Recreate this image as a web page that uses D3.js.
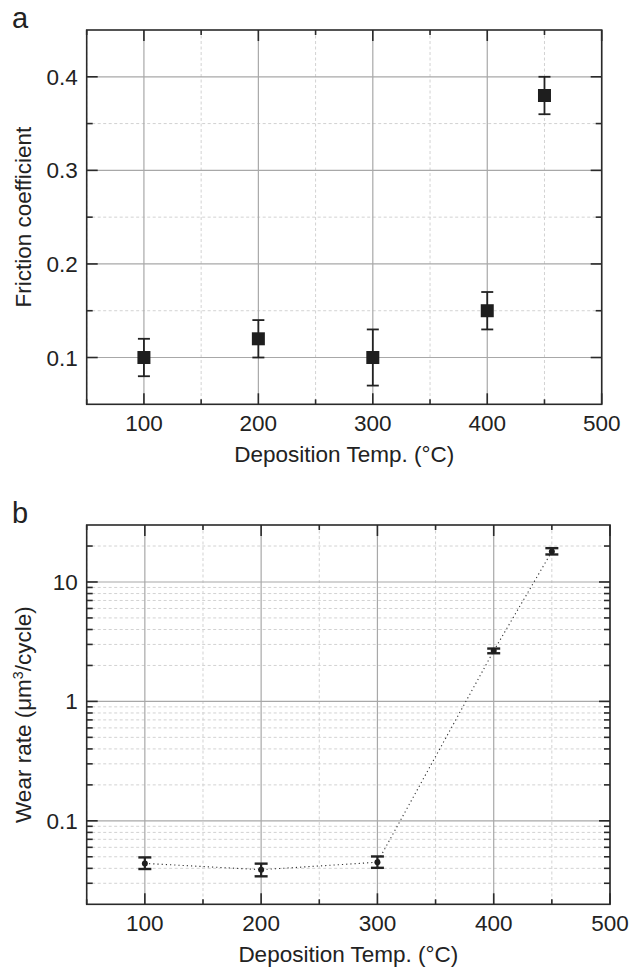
<!DOCTYPE html>
<html>
<head>
<meta charset="utf-8">
<script src="https://cdn.jsdelivr.net/npm/d3@7"></script>
<style>
  body { margin: 0; background: #fff; }
  svg { display: block; font-family: "Liberation Sans", Arial, sans-serif; }
  .lbl { fill: #222; }
</style>
</head>
<body>
<svg id="chart" width="629" height="968"></svg>
<script>
// deposition temperatures (°C)
var temps = [100, 200, 300, 400, 450];

// panel a: friction coefficient with error bars
var friction = [0.10, 0.12, 0.10, 0.15, 0.38],
    frictionLow = [0.08, 0.10, 0.07, 0.13, 0.36],
    frictionHigh = [0.12, 0.14, 0.13, 0.17, 0.40];

// panel b: wear rate (um^3/cycle)
var wear = [0.044, 0.039, 0.045, 2.65, 18.0],
    wearLow = [0.0395, 0.0343, 0.0404, 2.53, 17.0],
    wearHigh = [0.0494, 0.0438, 0.0503, 2.77, 19.2];

var xTicks = [100, 200, 300, 400, 500],
    frictionTicks = [0.1, 0.2, 0.3, 0.4],
    frictionTickLabels = ['0.1', '0.2', '0.3', '0.4'],
    wearTicks = [0.1, 1, 10],
    wearTickLabels = ['0.1', '1', '10'];

var svg = d3.select('#chart');

function panel(opt) {
    var g = svg.append('g'),
        x = d3.scaleLinear().domain([50, 500]).range([opt.left, opt.right]),
        y = opt.y,
        top = opt.top, bottom = opt.bottom;

    var xMinor = x.ticks(9).filter(function(t) { return xTicks.indexOf(t) < 0; }),
        yMinor = opt.yMinor;

    // minor grid (dashed)
    g.selectAll('.gxm').data(xMinor).enter().append('line')
        .attr('x1', x).attr('x2', x).attr('y1', top).attr('y2', bottom)
        .attr('stroke', '#d2d2d2').attr('stroke-dasharray', '3,2.5');
    g.selectAll('.gym').data(yMinor).enter().append('line')
        .attr('y1', y).attr('y2', y).attr('x1', opt.left).attr('x2', opt.right)
        .attr('stroke', '#d2d2d2').attr('stroke-dasharray', '3,2.5');

    // major grid (solid)
    g.selectAll('.gx').data(xTicks).enter().append('line')
        .attr('x1', x).attr('x2', x).attr('y1', top).attr('y2', bottom)
        .attr('stroke', '#a8a8a8').attr('stroke-width', 1.2);
    g.selectAll('.gy').data(opt.yTicks).enter().append('line')
        .attr('y1', y).attr('y2', y).attr('x1', opt.left).attr('x2', opt.right)
        .attr('stroke', '#a8a8a8').attr('stroke-width', 1.2);

    // data layer
    opt.marks(g, x, y);

    // inward ticks on all four sides
    var tk = '#2a2a2a';
    function xt(data, len) {
        g.selectAll(null).data(data).enter().append('line')
            .attr('x1', x).attr('x2', x).attr('y1', bottom).attr('y2', bottom - len)
            .attr('stroke', tk).attr('stroke-width', 1.6);
        g.selectAll(null).data(data).enter().append('line')
            .attr('x1', x).attr('x2', x).attr('y1', top).attr('y2', top + len)
            .attr('stroke', tk).attr('stroke-width', 1.6);
    }
    function yt(data, len) {
        g.selectAll(null).data(data).enter().append('line')
            .attr('y1', y).attr('y2', y).attr('x1', opt.left).attr('x2', opt.left + len)
            .attr('stroke', tk).attr('stroke-width', 1.6);
        g.selectAll(null).data(data).enter().append('line')
            .attr('y1', y).attr('y2', y).attr('x1', opt.right).attr('x2', opt.right - len)
            .attr('stroke', tk).attr('stroke-width', 1.6);
    }
    xt(xTicks, 11); xt(xMinor, 5);
    yt(opt.yTicks, 11); yt(yMinor, 6);

    // frame
    g.append('rect')
        .attr('x', opt.left).attr('y', top)
        .attr('width', opt.right - opt.left).attr('height', bottom - top)
        .attr('fill', 'none').attr('stroke', '#2a2a2a').attr('stroke-width', 1.6);

    // tick labels
    g.selectAll('.xl').data(xTicks).enter().append('text').attr('class', 'lbl')
        .attr('x', x).attr('y', bottom + 27)
        .attr('text-anchor', 'middle').attr('font-size', 22.5)
        .text(function(d) { return d; });
    g.selectAll('.yl').data(opt.yTicks).enter().append('text').attr('class', 'lbl')
        .attr('x', opt.left - 9).attr('y', function(d) { return y(d) + 8; })
        .attr('text-anchor', 'end').attr('font-size', 22.5)
        .text(function(d, i) { return opt.yLabels[i]; });

    // axis titles
    g.append('text').attr('class', 'lbl')
        .attr('x', (opt.left + opt.right) / 2).attr('y', bottom + 58)
        .attr('text-anchor', 'middle').attr('font-size', 22.5)
        .text('Deposition Temp. (°C)');
    var yt2 = g.append('text').attr('class', 'lbl')
        .attr('transform', 'translate(31,' + (top + bottom) / 2 + ') rotate(-90)')
        .attr('text-anchor', 'middle').attr('font-size', 22.5);
    opt.yTitle(yt2);

    // panel letter
    g.append('text').attr('class', 'lbl')
        .attr('x', 12).attr('y', opt.letterY)
        .attr('font-size', 29).text(opt.letter);
}

// panel a
var ya = d3.scaleLinear().domain([0.05, 0.45]).range([404.3, 30]);
panel({
    left: 86.7, right: 601.7, top: 30, bottom: 404.3,
    y: ya, yTicks: frictionTicks, yLabels: frictionTickLabels,
    yMinor: [0.15, 0.25, 0.35],
    letter: 'a', letterY: 28,
    yTitle: function(t) { t.text('Friction coefficient'); },
    marks: function(g, x, y) {
        var pts = temps.map(function(t, i) {
            return { t: t, v: friction[i], lo: frictionLow[i], hi: frictionHigh[i] };
        });
        var e = g.selectAll('.eb').data(pts).enter().append('g');
        e.append('line')
            .attr('x1', function(d) { return x(d.t); }).attr('x2', function(d) { return x(d.t); })
            .attr('y1', function(d) { return y(d.lo); }).attr('y2', function(d) { return y(d.hi); })
            .attr('stroke', '#222').attr('stroke-width', 1.8);
        ['lo', 'hi'].forEach(function(k) {
            e.append('line')
                .attr('x1', function(d) { return x(d.t) - 6; }).attr('x2', function(d) { return x(d.t) + 6; })
                .attr('y1', function(d) { return y(d[k]); }).attr('y2', function(d) { return y(d[k]); })
                .attr('stroke', '#222').attr('stroke-width', 1.8);
        });
        e.append('rect')
            .attr('x', function(d) { return x(d.t) - 6.5; })
            .attr('y', function(d) { return y(d.v) - 6.5; })
            .attr('width', 13).attr('height', 13)
            .attr('fill', '#1e1e1e');
    }
});

// panel b
var yb = d3.scaleLog().domain([0.02, 30]).range([904.3, 525]);
panel({
    left: 86.7, right: 610, top: 525, bottom: 904.3,
    y: yb, yTicks: wearTicks, yLabels: wearTickLabels,
    yMinor: yb.ticks().filter(function(t) {
        return wearTicks.every(function(m) { return Math.abs(t - m) > 1e-9; }) && t > 0.02 && t < 30;
    }),
    letter: 'b', letterY: 523,
    yTitle: function(t) {
        t.append('tspan').text('Wear rate (μm');
        t.append('tspan').attr('dy', -8).attr('font-size', 14).text('3');
        t.append('tspan').attr('dy', 8).text('/cycle)');
    },
    marks: function(g, x, y) {
        var pts = temps.map(function(t, i) {
            return { t: t, v: wear[i], lo: wearLow[i], hi: wearHigh[i] };
        });
        var line = d3.line()
            .x(function(d) { return x(d.t); })
            .y(function(d) { return y(d.v); });
        g.append('path')
            .attr('d', line(pts))
            .attr('fill', 'none').attr('stroke', '#333')
            .attr('stroke-width', 1.1).attr('stroke-dasharray', '1.2,3');
        var e = g.selectAll('.eb').data(pts).enter().append('g');
        e.append('line')
            .attr('x1', function(d) { return x(d.t); }).attr('x2', function(d) { return x(d.t); })
            .attr('y1', function(d) { return y(d.lo); }).attr('y2', function(d) { return y(d.hi); })
            .attr('stroke', '#222').attr('stroke-width', 2.2);
        ['lo', 'hi'].forEach(function(k) {
            e.append('line')
                .attr('x1', function(d) { return x(d.t) - 6.5; }).attr('x2', function(d) { return x(d.t) + 6.5; })
                .attr('y1', function(d) { return y(d[k]); }).attr('y2', function(d) { return y(d[k]); })
                .attr('stroke', '#222').attr('stroke-width', 2.4);
        });
        e.append('circle')
            .attr('cx', function(d) { return x(d.t); })
            .attr('cy', function(d) { return y(d.v); })
            .attr('r', 3).attr('fill', '#1e1e1e');
    }
});
</script>
</body>
</html>
